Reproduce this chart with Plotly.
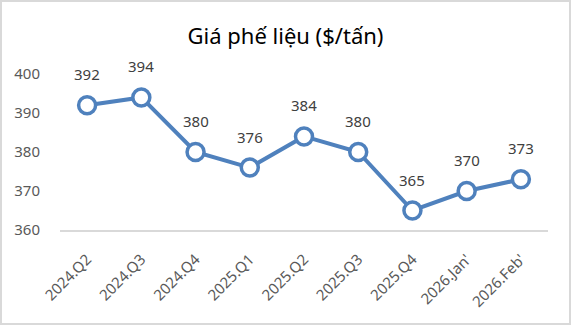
import plotly.graph_objects as go

categories = ["2024.Q2", "2024.Q3", "2024.Q4", "2025.Q1", "2025.Q2", "2025.Q3", "2025.Q4", "2026.Jan'", "2026.Feb'"]
prices = [392, 394, 380, 376, 384, 380, 365, 370, 373]
y_ticks = [360, 370, 380, 390, 400]
title_text = "Giá phế liệu ($/tấn)"

W, H = 571, 325
L, R, T, B = 60, 23, 74, 95
pw, ph = W - L - R, H - T - B

def px_x(p):
    return (p - L) / pw

def px_y(p):
    return (H - B - p) / ph

FONT = "Noto Sans"
BLUE = "#4F81BD"

fig = go.Figure()
fig.add_trace(go.Scatter(
    x=categories, y=prices, mode="lines+markers",
    line=dict(color=BLUE, width=4),
    marker=dict(size=17, color="white", line=dict(color=BLUE, width=3.5)),
    cliponaxis=False, hoverinfo="skip",
))

annotations = []
for c, v in zip(categories, prices):
    annotations.append(dict(x=c, y=v, text=str(v), showarrow=False, yshift=31,
                            font=dict(family=FONT, size=15, color="#404040")))

fig.update_layout(
    width=W, height=H,
    margin=dict(l=L, r=R, t=T, b=B),
    paper_bgcolor="white", plot_bgcolor="white",
    showlegend=False,
    title=dict(text=title_text, x=0.5, xanchor="center", y=1 - 36 / H, yanchor="middle",
               font=dict(family=FONT, size=22, color="#000000")),
    xaxis=dict(type="category", tickangle=-45, showgrid=False, zeroline=False,
               showline=True, linecolor="#D9D9D9", linewidth=1.5, ticks="",
               ticklabelstandoff=13,
               tickfont=dict(family=FONT, size=15, color="#595959"),
               range=[-0.5, len(categories) - 0.5]),
    yaxis=dict(range=[360, 400], tickvals=y_ticks, showgrid=False, zeroline=False,
               showline=False, ticks="", ticklabelstandoff=19,
               tickfont=dict(family=FONT, size=15, color="#595959")),
    annotations=annotations,
    shapes=[dict(type="rect", xref="paper", yref="paper",
                 x0=px_x(1), x1=px_x(570), y0=px_y(324), y1=px_y(1),
                 line=dict(color="#D9D9D9", width=2), fillcolor="rgba(0,0,0,0)", layer="below")],
)

fig.write_html("out.html")
